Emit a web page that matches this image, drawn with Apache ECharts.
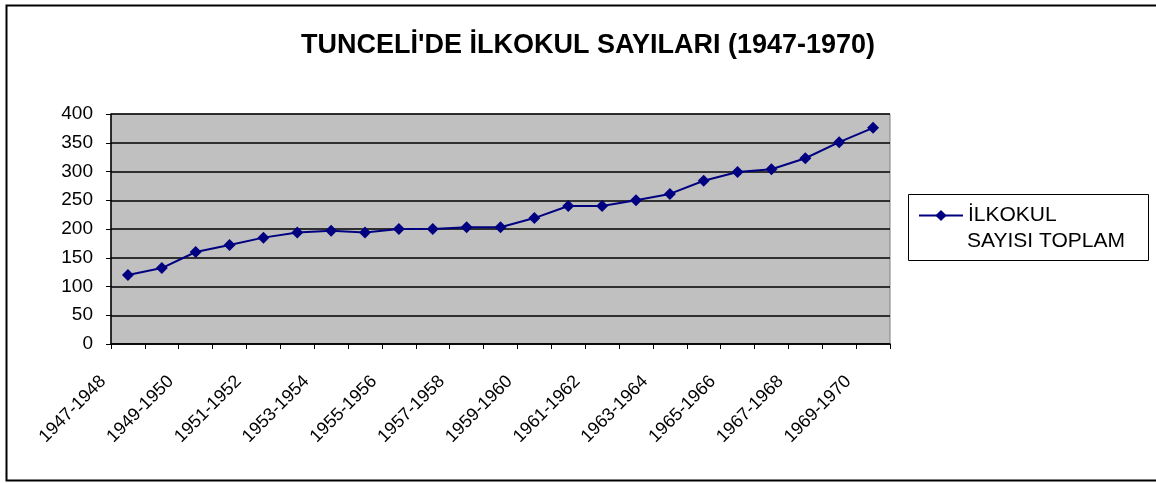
<!DOCTYPE html>
<html>
<head>
<meta charset="utf-8">
<script src="https://cdn.jsdelivr.net/npm/echarts@6/dist/echarts.min.js"></script>
<style>
  html, body { margin: 0; padding: 0; background: #fff; }
  #chart { width: 1156px; height: 483px; }
</style>
</head>
<body>
<div id="chart"></div>
<script>
// okul yillari
const years = [
  '1947-1948', '1948-1949', '1949-1950', '1950-1951', '1951-1952', '1952-1953',
  '1953-1954', '1954-1955', '1955-1956', '1956-1957', '1957-1958', '1958-1959',
  '1959-1960', '1960-1961', '1961-1962', '1962-1963', '1963-1964', '1964-1965',
  '1965-1966', '1966-1967', '1967-1968', '1968-1969', '1969-1970'
]
// ilkokul sayisi toplam
const schoolCount = [
  120, 132, 160, 172, 185, 194, 197, 194, 200, 200, 203, 203,
  219, 240, 240, 250, 261, 284, 299, 304, 323, 351, 376
]
const yTicks = [0, 50, 100, 150, 200, 250, 300, 350, 400]
const seriesName = 'İLKOKUL SAYISI TOPLAM'
const legendLines = ['İLKOKUL', 'SAYISI TOPLAM']

const font = 'Arial, "Liberation Sans", sans-serif'
const myChart = echarts.init(document.getElementById('chart'))

myChart.setOption({
  backgroundColor: '#fff',
  animation: false,
  title: {
    text: "TUNCELİ'DE İLKOKUL SAYILARI (1947-1970)",
    left: 583,
    top: 27,
    textAlign: 'center',
    textStyle: {
      fontFamily: font,
      fontSize: 27,
      fontWeight: 'bold',
      color: '#000'
    }
  },
  graphic: [
    // dis cerceve
    {
      type: 'rect',
      shape: { x: 6.5, y: 5.5, width: 1160, height: 475 },
      style: { fill: 'none', stroke: '#000', lineWidth: 2 },
      silent: true
    },
    // lejant cercevesi
    {
      type: 'rect',
      shape: { x: 908.5, y: 194.5, width: 240, height: 66 },
      style: { fill: 'none', stroke: '#000', lineWidth: 1 },
      silent: true
    },
    // lejant ikinci satir
    {
      type: 'text',
      left: 967,
      top: 231,
      style: {
        text: legendLines[1],
        font: '21px ' + font,
        fill: '#000'
      },
      silent: true
    }
  ],
  legend: {
    left: 918,
    top: 205,
    orient: 'vertical',
    padding: 0,
    itemWidth: 44,
    itemHeight: 14,
    formatter: () => legendLines[0],
    textStyle: {
      fontFamily: font,
      fontSize: 21,
      color: '#000'
    },
    data: [seriesName]
  },
  grid: {
    left: 111,
    right: 266,
    top: 114,
    bottom: 139,
    show: true,
    backgroundColor: '#c0c0c0',
    borderColor: '#808080',
    borderWidth: 1
  },
  xAxis: {
    type: 'category',
    data: years,
    boundaryGap: true,
    axisLine: { lineStyle: { color: '#000', width: 1.5 } },
    axisTick: { show: true, interval: 0, length: 5, lineStyle: { color: '#000' } },
    axisLabel: {
      interval: 1,
      rotate: 45,
      margin: 10,
      padding: [0, 35, 0, 0],
      fontFamily: font,
      fontSize: 18,
      color: '#000'
    }
  },
  yAxis: {
    type: 'value',
    min: yTicks[0],
    max: yTicks[yTicks.length - 1],
    interval: 50,
    axisLine: { show: true, lineStyle: { color: '#000', width: 1.5 } },
    axisTick: { show: true, length: 5, lineStyle: { color: '#000' } },
    axisLabel: {
      margin: 18,
      fontFamily: font,
      fontSize: 19,
      color: '#000'
    },
    splitLine: { lineStyle: { color: '#000', width: 1.5 } }
  },
  series: [{
    name: seriesName,
    type: 'line',
    data: schoolCount,
    symbol: 'diamond',
    symbolSize: 12,
    color: '#000080',
    lineStyle: { color: '#000080', width: 2 },
    itemStyle: { color: '#000080' }
  }]
})
</script>
</body>
</html>
